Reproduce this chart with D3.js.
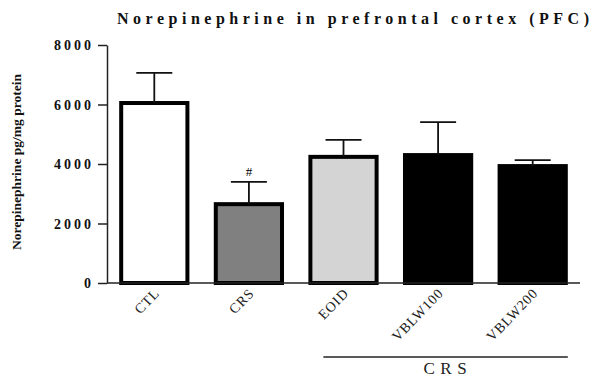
<!DOCTYPE html>
<meta charset="utf-8">
<script src="https://d3js.org/d3.v7.min.js"></script>
<style>
  body { margin: 0; background: #fff; }
  text { font-family: "Liberation Serif", "Times New Roman", serif; }
</style>
<div id="chart"></div>
<script>
  // data
  const groups = ["CTL", "CRS", "EOID", "VBLW100", "VBLW200"];
  const means = [6050, 2650, 4240, 4300, 3930];
  const errors = [1010, 750, 570, 1110, 200];
  const fills = ["#ffffff", "#808080", "#d4d4d4", "#000000", "#000000"];
  const yTicks = [0, 2000, 4000, 6000, 8000];
  const marks = ["", "#", "", "", ""];
  const crsGroup = ["EOID", "VBLW200"];

  const W = 614, H = 381;
  const plot = { left: 107, right: 580, top: 45, bottom: 283 };

  const svg = d3.select("#chart").append("svg")
    .attr("width", W).attr("height", H);

  const x = d3.scaleBand().domain(groups).range([plot.left, plot.right])
    .paddingInner(0.3).paddingOuter(0.15);
  const y = d3.scaleLinear().domain([0, 8000]).range([plot.bottom, plot.top]);

  // title
  svg.append("text")
    .attr("x", 117).attr("y", 24)
    .attr("textLength", 472).attr("lengthAdjust", "spacing")
    .style("font-size", "16px").style("font-weight", "bold")
    .attr("fill", "#111")
    .text("Norepinephrine in prefrontal cortex (PFC)");

  // y axis label
  svg.append("text")
    .attr("transform", `translate(21,162) rotate(-90)`)
    .attr("text-anchor", "middle")
    .attr("textLength", 176).attr("lengthAdjust", "spacingAndGlyphs")
    .style("font-size", "12.5px").style("font-weight", "bold")
    .attr("fill", "#111")
    .text("Norepinephrine pg/mg protein");

  // y axis
  const yAxis = svg.append("g")
    .attr("transform", `translate(${plot.left},0)`)
    .call(d3.axisLeft(y).tickValues(yTicks).tickSize(9).tickSizeOuter(0).tickFormat(d3.format("d")));
  yAxis.select(".domain").attr("stroke", "#222").attr("stroke-width", 1.5);
  yAxis.selectAll(".tick line").attr("stroke", "#222").attr("stroke-width", 1.5);
  yAxis.selectAll(".tick text")
    .attr("x", -13)
    .attr("dy", "0.35em")
    .style("font-family", "'Liberation Serif', serif")
    .style("font-size", "14px").style("font-weight", "bold")
    .style("letter-spacing", "3px")
    .attr("fill", "#111");

  // bars
  svg.selectAll(".bar")
    .data(groups)
    .join("rect")
    .attr("class", "bar")
    .attr("x", d => x(d))
    .attr("width", x.bandwidth())
    .attr("y", (d, i) => y(means[i]))
    .attr("height", (d, i) => y(0) - y(means[i]))
    .attr("fill", (d, i) => fills[i])
    .attr("stroke", "#000")
    .attr("stroke-width", 4);

  // error bars
  const cap = 36;
  svg.selectAll(".err")
    .data(groups)
    .join("path")
    .attr("class", "err")
    .attr("fill", "none")
    .attr("stroke", "#111")
    .attr("stroke-width", 1.8)
    .attr("d", (d, i) => {
      const cx = x(d) + x.bandwidth() / 2;
      const y0 = y(means[i]), y1 = y(means[i] + errors[i]);
      return `M${cx},${y0}V${y1}M${cx - cap / 2},${y1}H${cx + cap / 2}`;
    });

  // significance marks
  svg.selectAll(".mark")
    .data(groups)
    .join("text")
    .attr("class", "mark")
    .attr("x", d => x(d) + x.bandwidth() / 2)
    .attr("y", (d, i) => y(means[i] + errors[i]) - 6)
    .attr("text-anchor", "middle")
    .style("font-size", "13px")
    .text((d, i) => marks[i]);

  // x axis line
  svg.append("line")
    .attr("x1", plot.left).attr("x2", plot.right)
    .attr("y1", plot.bottom).attr("y2", plot.bottom)
    .attr("stroke", "#222").attr("stroke-width", 1.5);

  // x labels
  svg.selectAll(".xlab")
    .data(groups)
    .join("text")
    .attr("class", "xlab")
    .attr("transform", d => `translate(${x(d) + x.bandwidth() / 2 + 6},${plot.bottom + 11}) rotate(-46)`)
    .attr("text-anchor", "end")
    .style("font-size", "14px")
    .style("letter-spacing", "0.8px")
    .attr("fill", "#222")
    .text(d => d);

  // CRS group bracket
  const gx0 = x(crsGroup[0]) + 13, gx1 = x(crsGroup[1]) + x.bandwidth() + 2;
  svg.append("line")
    .attr("x1", gx0).attr("x2", gx1)
    .attr("y1", 357).attr("y2", 357)
    .attr("stroke", "#222").attr("stroke-width", 1.5);
  svg.append("text")
    .attr("x", (gx0 + gx1) / 2 - 22).attr("y", 374)
    .attr("textLength", 43).attr("lengthAdjust", "spacing")
    .style("font-size", "17px")
    .attr("fill", "#222")
    .text("CRS");
</script>
